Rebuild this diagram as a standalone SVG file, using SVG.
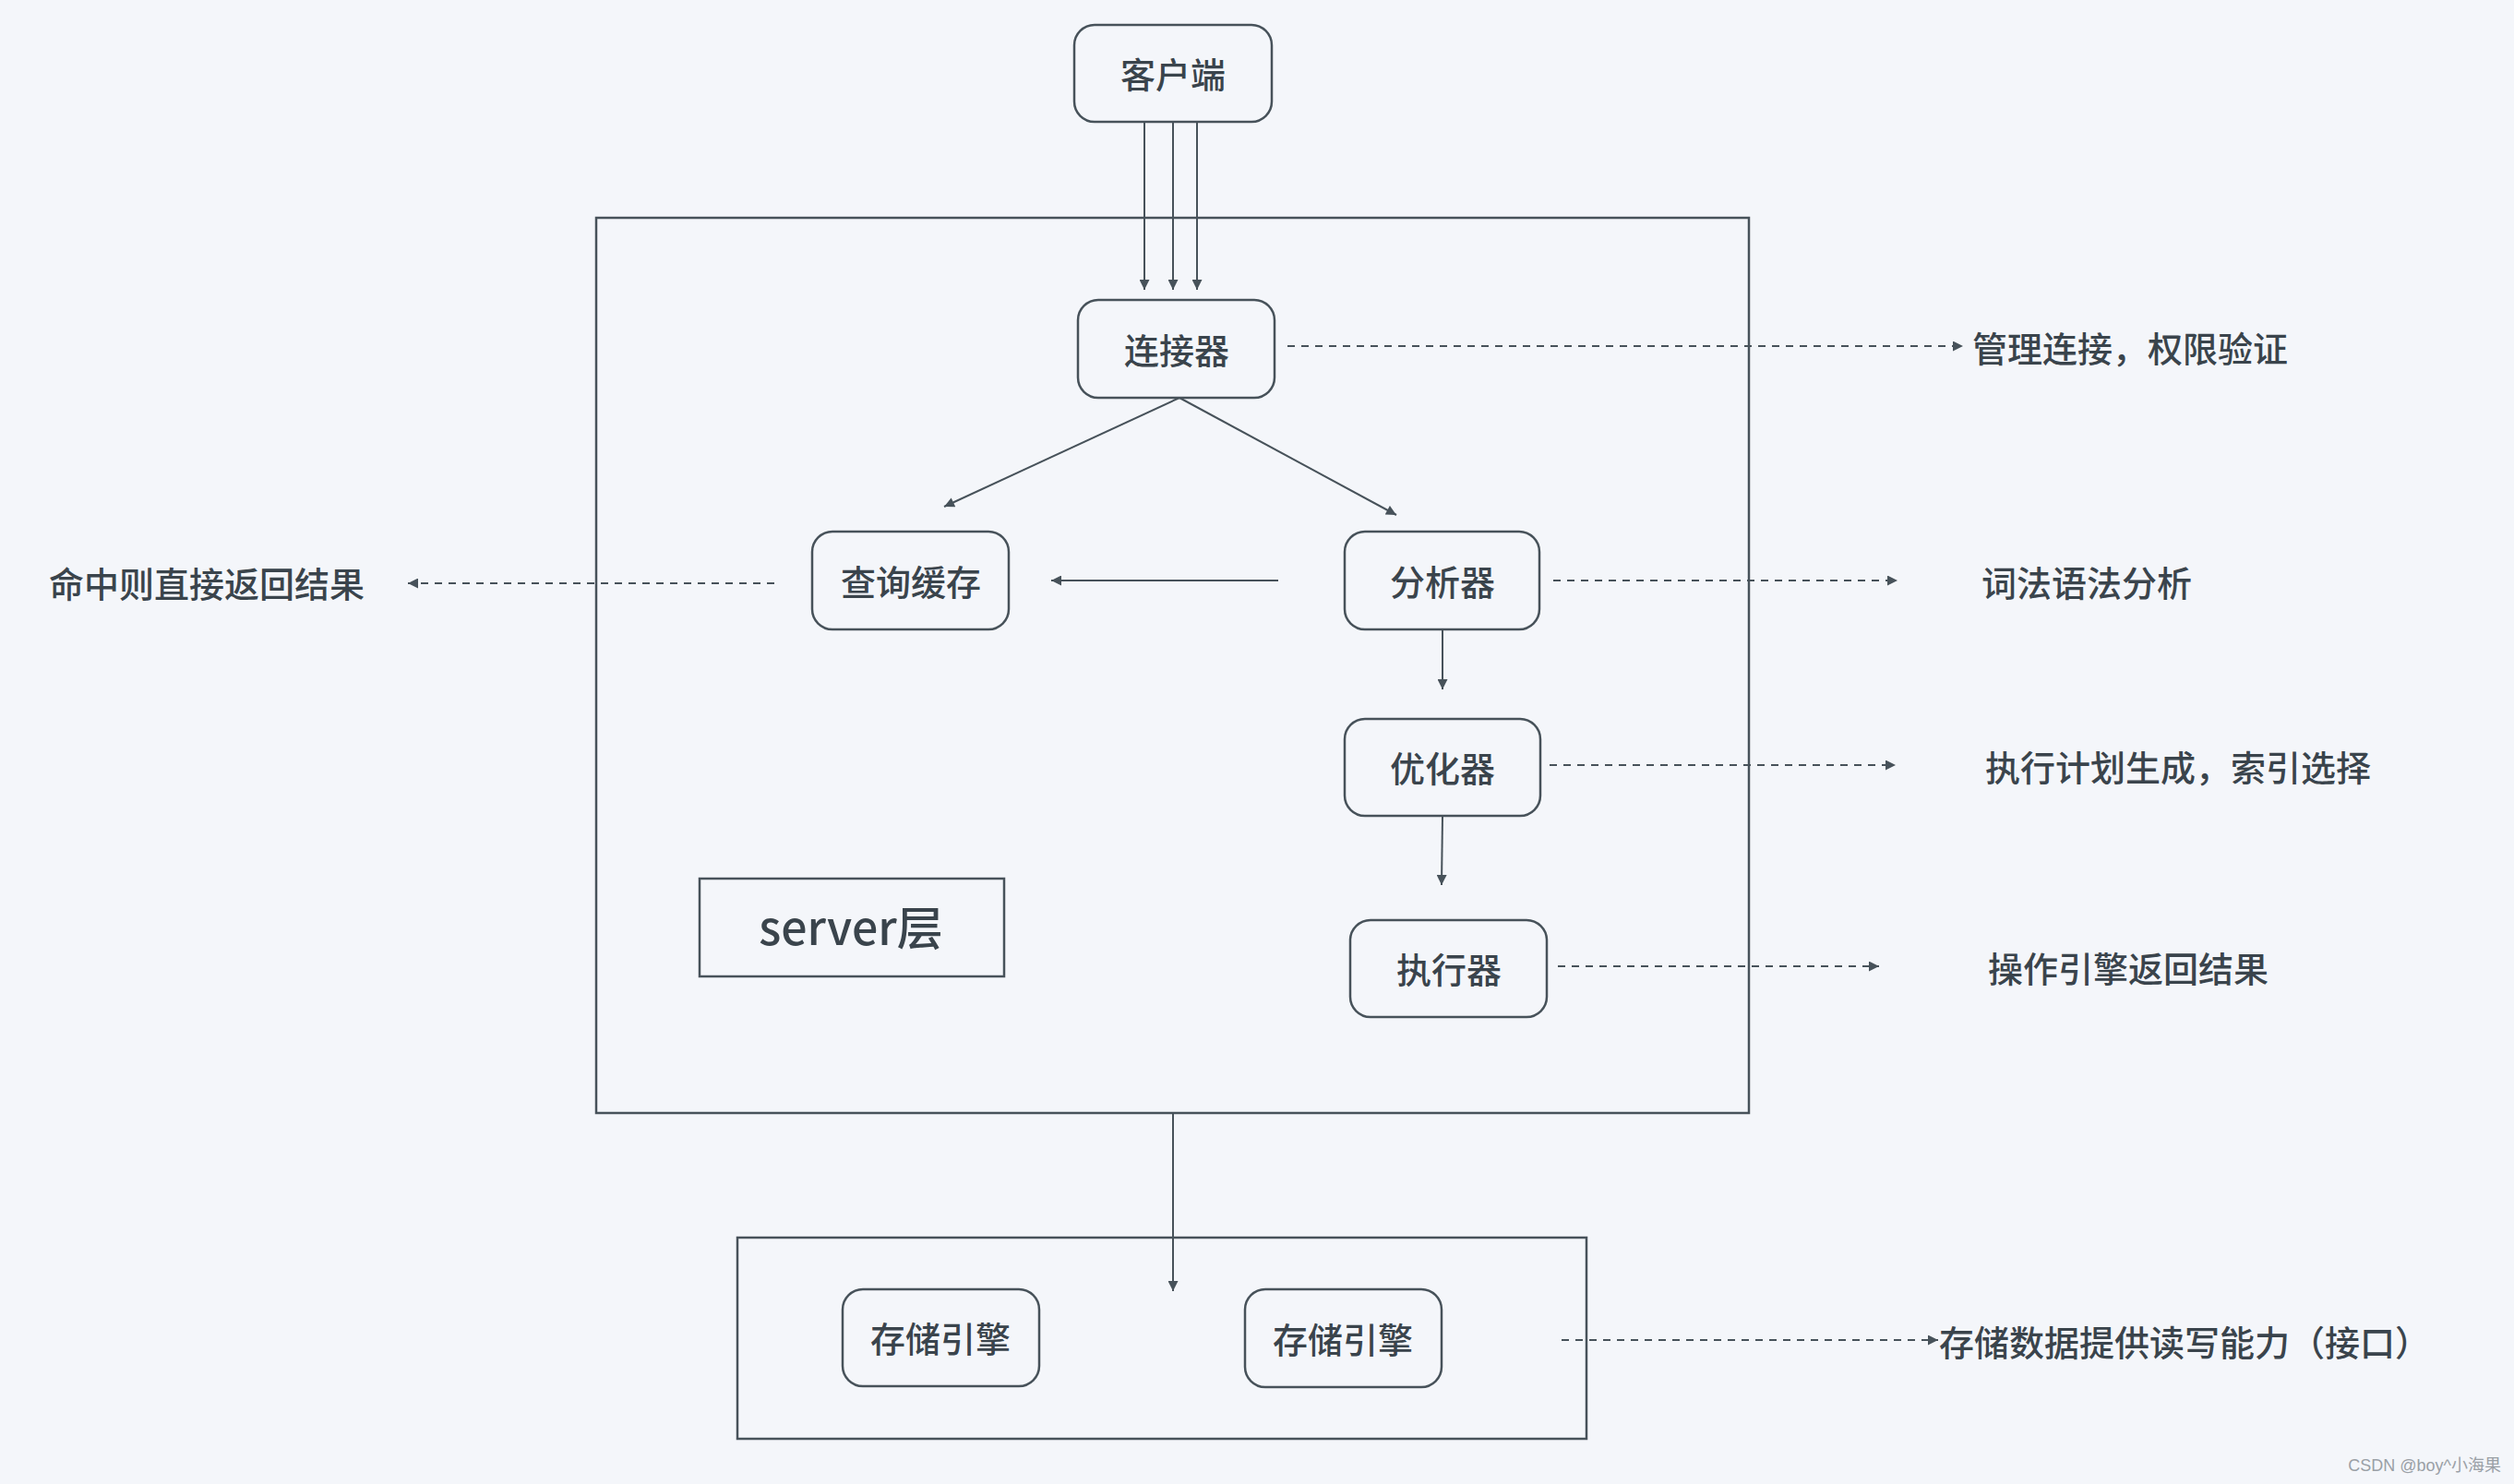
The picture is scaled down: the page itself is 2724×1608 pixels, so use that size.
<svg xmlns="http://www.w3.org/2000/svg" width="2724" height="1608" viewBox="0 0 2724 1608">
<style>
.bg{fill:#f4f6fa}
.node{fill:#f4f6fa;stroke:#47525a;stroke-width:2.5}
.frame{fill:none;stroke:#47525a;stroke-width:2.5}
.t{font-family:"Noto Sans CJK SC","Noto Sans",sans-serif;font-size:38px;fill:#3a444c;font-weight:500}
.c{text-anchor:middle}
.line{stroke:#47525a;stroke-width:2;fill:none}
.dash{stroke:#47525a;stroke-width:2;fill:none;stroke-dasharray:8 7}
.wm{font-family:"Liberation Sans","Noto Sans CJK SC",sans-serif;font-size:18px;fill:#9aa0a6;text-anchor:end}
</style>
<defs>
<marker id="ah" viewBox="0 0 10 10" refX="10" refY="5" markerWidth="13" markerHeight="11" markerUnits="userSpaceOnUse" orient="auto">
<path d="M0,0 L10,5 L0,10 z" fill="#47525a"/>
</marker>
</defs>
<rect class="bg" x="0" y="0" width="2724" height="1608"/>

<g id="server-layer">
<rect class="frame" x="646" y="236" width="1249" height="970"/>
</g>
<g id="storage-layer">
<rect class="frame" x="799" y="1341" width="920" height="218"/>
</g>

<g id="connectors">
<line class="line" x1="1240" y1="132" x2="1240" y2="314" marker-end="url(#ah)"/>
<line class="line" x1="1271" y1="132" x2="1271" y2="314" marker-end="url(#ah)"/>
<line class="line" x1="1297" y1="132" x2="1297" y2="314" marker-end="url(#ah)"/>
<line class="line" x1="1278" y1="431" x2="1023" y2="549" marker-end="url(#ah)"/>
<line class="line" x1="1278" y1="431" x2="1513" y2="558" marker-end="url(#ah)"/>
<line class="line" x1="1385" y1="629" x2="1139" y2="629" marker-end="url(#ah)"/>
<line class="line" x1="1563" y1="682" x2="1563" y2="747" marker-end="url(#ah)"/>
<line class="line" x1="1563" y1="884" x2="1562" y2="959" marker-end="url(#ah)"/>
<line class="line" x1="1271" y1="1206" x2="1271" y2="1399" marker-end="url(#ah)"/>
<line class="dash" x1="1395" y1="375" x2="2127" y2="375" marker-end="url(#ah)"/>
<line class="dash" x1="1683" y1="629" x2="2056" y2="629" marker-end="url(#ah)"/>
<line class="dash" x1="1679" y1="829" x2="2054" y2="829" marker-end="url(#ah)"/>
<line class="dash" x1="1688" y1="1047" x2="2036" y2="1047" marker-end="url(#ah)"/>
<line class="dash" x1="839" y1="632" x2="442" y2="632" marker-end="url(#ah)"/>
<line class="dash" x1="1692" y1="1452" x2="2100" y2="1452" marker-end="url(#ah)"/>
</g>

<g id="client">
<rect class="node" x="1164" y="27" width="214" height="105" rx="22"/>
<text class="t c" x="1271" y="95">客户端</text>
</g>
<g id="connector">
<rect class="node" x="1168" y="325" width="213" height="106" rx="22"/>
<text class="t c" x="1275" y="394">连接器</text>
</g>
<g id="query-cache">
<rect class="node" x="880" y="576" width="213" height="106" rx="22"/>
<text class="t c" x="987" y="645">查询缓存</text>
</g>
<g id="analyzer">
<rect class="node" x="1457" y="576" width="211" height="106" rx="22"/>
<text class="t c" x="1563" y="645">分析器</text>
</g>
<g id="optimizer">
<rect class="node" x="1457" y="779" width="212" height="105" rx="22"/>
<text class="t c" x="1563" y="847">优化器</text>
</g>
<g id="executor">
<rect class="node" x="1463" y="997" width="213" height="105" rx="22"/>
<text class="t c" x="1570" y="1065">执行器</text>
</g>
<g id="server-label">
<rect class="frame" x="758" y="952" width="330" height="106"/>
<text class="t c" x="922" y="1024" style="font-size:50px">server层</text>
</g>
<g id="engine-1">
<rect class="node" x="913" y="1397" width="213" height="105" rx="22"/>
<text class="t c" x="1019" y="1465">存储引擎</text>
</g>
<g id="engine-2">
<rect class="node" x="1349" y="1397" width="213" height="106" rx="22"/>
<text class="t c" x="1455" y="1466">存储引擎</text>
</g>

<g id="labels">
<text class="t" x="2137" y="392">管理连接，权限验证</text>
<text class="t" x="2147" y="646">词法语法分析</text>
<text class="t" x="2151" y="846">执行计划生成，索引选择</text>
<text class="t" x="2154" y="1064">操作引擎返回结果</text>
<text class="t" x="53" y="647">命中则直接返回结果</text>
<text class="t" x="2101" y="1469">存储数据提供读写能力（接口）</text>
<text class="wm" x="2710" y="1594">CSDN @boy^小海果</text>
</g>
</svg>
